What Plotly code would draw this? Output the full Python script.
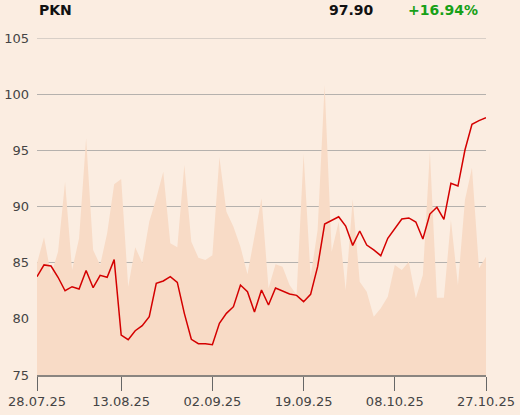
import plotly.graph_objects as go

dates = [
    "28.07.25", "29.07.25", "30.07.25", "31.07.25",
    "01.08.25", "04.08.25", "05.08.25", "06.08.25", "07.08.25", "08.08.25",
    "11.08.25", "12.08.25", "13.08.25", "14.08.25",
    "18.08.25", "19.08.25", "20.08.25", "21.08.25", "22.08.25",
    "25.08.25", "26.08.25", "27.08.25", "28.08.25", "29.08.25",
    "01.09.25", "02.09.25", "03.09.25", "04.09.25", "05.09.25",
    "08.09.25", "09.09.25", "10.09.25", "11.09.25", "12.09.25",
    "15.09.25", "16.09.25", "17.09.25", "18.09.25", "19.09.25",
    "22.09.25", "23.09.25", "24.09.25", "25.09.25", "26.09.25",
    "29.09.25", "30.09.25", "01.10.25", "02.10.25", "03.10.25",
    "06.10.25", "07.10.25", "08.10.25", "09.10.25", "10.10.25",
    "13.10.25", "14.10.25", "15.10.25", "16.10.25", "17.10.25",
    "20.10.25", "21.10.25", "22.10.25", "23.10.25", "24.10.25",
    "27.10.25",
]

price = [
    83.75, 84.80, 84.70, 83.70, 82.50, 82.86, 82.65, 84.30, 82.77, 83.87,
    83.70, 85.27, 78.56, 78.14, 78.94, 79.39, 80.19, 83.16, 83.37, 83.75,
    83.25, 80.49, 78.18, 77.79, 77.79, 77.70, 79.60, 80.49, 81.08, 83.01,
    82.42, 80.61, 82.57, 81.23, 82.74, 82.48, 82.21, 82.09, 81.53, 82.18,
    84.64, 88.44, 88.74, 89.09, 88.26, 86.54, 87.82, 86.57, 86.13, 85.62,
    87.17, 88.09, 88.89, 88.98, 88.62, 87.11, 89.33, 89.93, 88.86, 92.06,
    91.82, 95.03, 97.31, 97.64, 97.90,
]

# volume, thousands of shares
volume = [
    2234, 2754, 2000, 2466, 3866, 2100, 2734, 4734, 2500, 2200,
    2834, 3814, 3920, 1766, 2554, 2246, 3066, 3534, 4066, 2634,
    2554, 4200, 2666, 2346, 2300, 2394, 4354, 3266, 2966, 2566,
    2014, 2766, 3534, 1734, 2214, 2166, 1800, 1600, 4420, 1966,
    2900, 5800, 2466, 3066, 1700, 3514, 1866, 1666, 1166, 1334,
    1566, 2200, 2100, 2266, 1534, 2000, 4466, 1546, 1546, 3100,
    1800, 3500, 4146, 2134, 2366,
]

tick_dates = ["28.07.25", "13.08.25", "02.09.25", "19.09.25", "08.10.25", "27.10.25"]
y_ticks = [75, 80, 85, 90, 95, 100, 105]

header_symbol = "PKN"
header_last = "97.90"
header_change = "+16.94%"

BG = "#fbede1"
AREA = "#f8dbc6"
GRID = "#b5b1ad"
FONT = "DejaVu Sans"

fig = go.Figure()

fig.add_trace(go.Scatter(
    x=dates, y=volume, yaxis="y", mode="lines",
    line=dict(width=0, color=AREA), fill="tozeroy", fillcolor=AREA,
    hoverinfo="skip", showlegend=False,
))

fig.add_trace(go.Scatter(
    x=dates, y=price, yaxis="y2", mode="lines",
    line=dict(width=1.5, color="#d40000"), showlegend=False,
))

fig.update_layout(
    width=520, height=415,
    margin=dict(l=37, r=34, t=38, b=40),
    paper_bgcolor=BG, plot_bgcolor=BG,
    font=dict(family=FONT, size=13, color="#444444"),
    xaxis=dict(
        type="category", range=[0, len(dates) - 1], automargin=False,
        tickvals=tick_dates, ticktext=tick_dates,
        ticks="outside", ticklen=14, tickwidth=1, tickcolor="#666666",
        showline=True, linecolor="#8a8580", linewidth=1.5,
        showgrid=False, zeroline=False,
        tickfont=dict(family=FONT, size=13, color="#444444"),
    ),
    yaxis=dict(
        range=[0, 6740], visible=False, showgrid=False, zeroline=False,
        automargin=False,
    ),
    yaxis2=dict(
        overlaying="y", side="left", range=[75, 105], automargin=False,
        tickvals=y_ticks, ticks="", showgrid=True,
        gridcolor=GRID, gridwidth=1, zeroline=False, showline=False,
        tickfont=dict(family=FONT, size=13, color="#444444"),
        ticklabelstandoff=7,
    ),
    shapes=[
        dict(type="line", xref="paper", yref="y2", x0=0, x1=1, y0=105, y1=105,
             line=dict(color=GRID, width=1), layer="below"),
    ],
    annotations=[
        dict(text=f"<b>{header_symbol}</b>", xref="paper", yref="paper",
             x=0, y=1.083, xanchor="left", yanchor="middle", showarrow=False,
             font=dict(family=FONT, size=14, color="#111111")),
        dict(text=f"<b>{header_last}</b>", xref="paper", yref="paper",
             x=0.646, y=1.083, xanchor="left", yanchor="middle", showarrow=False,
             font=dict(family=FONT, size=14, color="#111111")),
        dict(text=f"<b>{header_change}</b>", xref="paper", yref="paper",
             x=0.822, y=1.083, xanchor="left", yanchor="middle", showarrow=False,
             font=dict(family=FONT, size=14, color="#17a017")),
    ],
)

fig.write_html(
    "out.html",
    config={"displayModeBar": False},
    post_script="document.body.style.margin='0';document.body.style.background='#fbede1';",
)
